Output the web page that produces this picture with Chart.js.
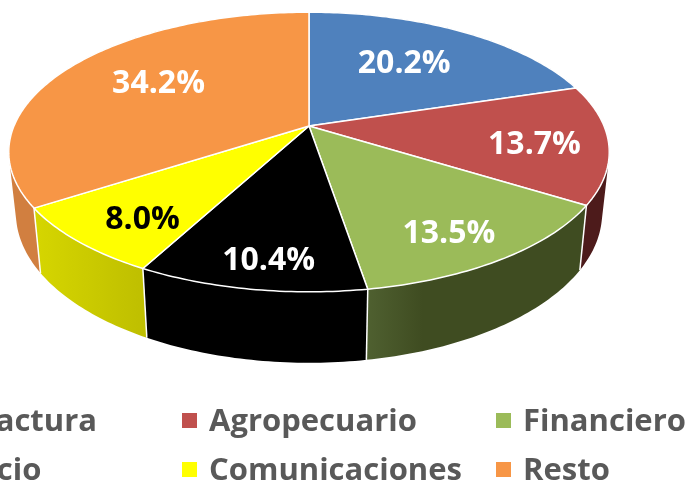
<!DOCTYPE html>
<html>
<head>
<meta charset="utf-8">
<title>Sectores</title>
<script src="https://cdn.jsdelivr.net/npm/chart.js@4"></script>
<style>
  html, body { margin: 0; padding: 0; background: #fff; overflow: hidden; }
  canvas { display: block; }
</style>
</head>
<body>
<canvas id="pie" width="685" height="482"></canvas>
<script>
var categories = ["Manufactura", "Agropecuario", "Financiero", "Comercio", "Comunicaciones", "Resto"];
var shares = [20.2, 13.7, 13.5, 10.4, 8.0, 34.2];
var topColors = ["#4f81bd", "#c0504d", "#9bbb59", "#000000", "#ffff00", "#f79646"];

// side wall colours, left end and right end of each slice
var wallLeft = ["#2a4565", "#4d1b1b", "#4f6030", "#000000", "#d6d600", "#d17f40"];
var wallRight = ["#2a4565", "#4d1b1b", "#3f4c21", "#000000", "#bfbf00", "#d17f40"];
var wallFade = [1, 1, 0.25, 1, 1, 1];
var labelColors = ["#ffffff", "#ffffff", "#ffffff", "#ffffff", "#000000", "#ffffff"];

// how far out along the slice each label sits
var labelReach = [0.62, 0.76, 0.77, 0.82, 0.77, 0.62];
var labelNudgeX = [-4, -1, -3, 6, 5, 2];
var labelNudgeY = [0, 5, 10, 6, 8, -4];

// perspective used for the tilted disc
var persp = 0.186;
var topPlane = { x: 309, y: 126, rx: 295, ry: 135 };
var bottomPlane = { x: 309, y: 185, rx: 288, ry: 144.7 };

function project(plane, angle, reach) {
    var u = Math.cos(angle) * reach;
    var v = Math.sin(angle) * reach;
    var w = 1 - persp * v;
    return { x: plane.x + plane.rx * u / w, y: plane.y + plane.ry * v / w };
}

function traceRim(ctx, plane, from, to) {
    var steps = Math.max(4, Math.ceil(Math.abs(to - from) * 60));
    for (var s = 0; s <= steps; s++) {
        var p = project(plane, from + (to - from) * s / steps, 1);
        ctx.lineTo(p.x, p.y);
    }
}

// wall of one slice: quads in one path so the outline follows the tangent edge without seams
function drawWall(ctx, a, paint) {
    var steps = Math.ceil((a.endAngle - a.startAngle) * 60);
    ctx.fillStyle = paint;
    ctx.beginPath();
    for (var s = 0; s < steps; s++) {
        var t0 = a.startAngle + (a.endAngle - a.startAngle) * s / steps;
        var t1 = a.startAngle + (a.endAngle - a.startAngle) * (s + 1) / steps;
        var quad = [project(topPlane, t0, 1), project(topPlane, t1, 1), project(bottomPlane, t1, 1), project(bottomPlane, t0, 1)];
        // same winding for every quad, otherwise back facing ones cancel out
        var area = 0;
        for (var k = 0; k < 4; k++) {
            var nx = quad[(k + 1) % 4];
            area += quad[k].x * nx.y - nx.x * quad[k].y;
        }
        if (area < 0) {
            quad.reverse();
        }
        ctx.moveTo(quad[0].x, quad[0].y);
        ctx.lineTo(quad[1].x, quad[1].y);
        ctx.lineTo(quad[2].x, quad[2].y);
        ctx.lineTo(quad[3].x, quad[3].y);
        ctx.closePath();
    }
    ctx.fill();
}

var tiltedPie = {
    id: "tiltedPie",
    beforeDatasetsDraw: function (chart) {
        var ctx = chart.ctx;
        var arcs = chart.getDatasetMeta(0).data;
        var i;

        ctx.save();
        ctx.lineJoin = "round";

        // walls first, back slices before front ones
        var order = [5, 0, 1, 4, 2, 3];
        for (var n = 0; n < order.length; n++) {
            i = order[n];
            var a = arcs[i];
            var g = ctx.createLinearGradient(project(topPlane, a.endAngle, 1).x, 0, project(topPlane, a.startAngle, 1).x, 0);
            g.addColorStop(0, wallLeft[i]);
            g.addColorStop(wallFade[i], wallRight[i]);
            drawWall(ctx, a, g);
        }

        // white seams between the walls
        ctx.strokeStyle = "#ffffff";
        ctx.lineWidth = 1.5;
        for (i = 0; i < arcs.length; i++) {
            var st = project(topPlane, arcs[i].startAngle, 1);
            var sb = project(bottomPlane, arcs[i].startAngle, 1);
            ctx.beginPath();
            ctx.moveTo(st.x, st.y);
            ctx.lineTo(sb.x, sb.y);
            ctx.stroke();
        }

        // top face
        for (i = 0; i < arcs.length; i++) {
            ctx.beginPath();
            ctx.moveTo(topPlane.x, topPlane.y);
            traceRim(ctx, topPlane, arcs[i].startAngle, arcs[i].endAngle);
            ctx.closePath();
            ctx.fillStyle = topColors[i];
            ctx.fill();
            ctx.stroke();
        }

        // value labels
        ctx.font = "bold 32px 'Open Sans'";
        ctx.textAlign = "center";
        ctx.textBaseline = "middle";
        for (i = 0; i < arcs.length; i++) {
            var mid = (arcs[i].startAngle + arcs[i].endAngle) / 2;
            var pos = project(topPlane, mid, labelReach[i]);
            ctx.fillStyle = labelColors[i];
            ctx.fillText(shares[i].toFixed(1) + "%", pos.x + labelNudgeX[i], pos.y + labelNudgeY[i]);
        }
        ctx.restore();
        return false;
    },
    afterDraw: function (chart) {
        // legend runs off the left edge like in the original
        var ctx = chart.ctx;
        var columns = [-105, 209, 523];
        var rows = [431, 480];
        ctx.save();
        ctx.font = "bold 31px 'Open Sans'";
        ctx.textAlign = "left";
        ctx.textBaseline = "alphabetic";
        for (var i = 0; i < categories.length; i++) {
            var x = columns[i % 3];
            var y = rows[Math.floor(i / 3)];
            ctx.fillStyle = topColors[i];
            ctx.fillRect(x - 27, y - 18, 15, 15);
            ctx.fillStyle = "#595959";
            ctx.fillText(categories[i], x, y);
        }
        ctx.restore();
    }
};

new Chart(document.getElementById("pie"), {
    type: "pie",
    data: {
        labels: categories,
        datasets: [{ data: shares, backgroundColor: topColors }]
    },
    options: {
        responsive: false,
        animation: false,
        plugins: {
            legend: { display: false },
            tooltip: { enabled: false }
        }
    },
    plugins: [tiltedPie]
});
</script>
</body>
</html>
